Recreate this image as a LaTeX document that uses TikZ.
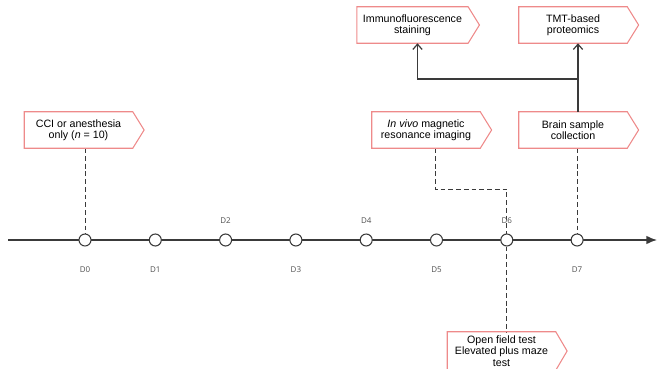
\documentclass[tikz,border=0pt]{standalone}
\usepackage{fontspec}
\setmainfont{Liberation Sans}
\newfontfamily\dayfont{Open Sans}
\usetikzlibrary{arrows.meta,positioning,calc,backgrounds}
\definecolor{tagred}{HTML}{EE8A8A}
\definecolor{linegray}{HTML}{3A3A3A}
\definecolor{daygray}{HTML}{505050}

\tikzset{
  tag/.style={rectangle, minimum width=81pt, minimum height=27pt, inner sep=1pt,
    align=center, font=\fontsize{8}{8.6}\selectfont},
  daydot/.style={circle, draw=linegray, fill=white, line width=0.8pt,
    minimum size=9pt, inner sep=0pt},
  daylabel/.style={font=\dayfont\fontsize{6}{6.5}\selectfont, text=daygray},
  dashline/.style={draw=linegray, dash pattern=on 3.6pt off 2.2pt, line width=0.75pt},
  flowline/.style={draw=linegray, line width=0.9pt, -{Straight Barb[length=4pt,width=7pt]}}
}

\begin{document}
\begin{tikzpicture}[x=0.75pt,y=-0.75pt]
  \clip (0,0) rectangle (657,368);

  % Days on the time line
  \foreach \i/\dy in {0/30,1/30,2/-19,3/30,4/-19,5/30,6/-19,7/30}{
    \node[daydot] (d\i) at (85+70.3*\i,240) {};
    \node[daylabel] (l\i) at ($(d\i)+(0,\dy)$) {D\i};
  }
  \coordinate (tstart) at (8,240);
  \coordinate (tend) at (657,240);

  % Event tags
  \node[tag] (cci) at (78.5,130) {CCI or anesthesia\\only (\textit{n} = 10)};
  \node[tag] (mri) at (426,130) {\textit{In vivo} magnetic\\resonance imaging};
  \node[tag] (brain) at (573,130) {Brain sample\\collection};
  \node[tag, minimum width=83pt] (immuno) at (412.5,25) {Immunofluorescence\\staining};
  \node[tag] (tmt) at (573,25) {TMT-based\\proteomics};
  \node[tag, minimum height=28.5pt] (oft) at (501.5,351) {Open field test\\Elevated plus maze\\test};

  \foreach \n in {cci,mri,brain,immuno,tmt,oft}
    \draw[tagred, line width=0.8pt, line join=miter] (\n.north west) -- (\n.north east)
      -- ([xshift=8.5pt]\n.east) -- (\n.south east) -- (\n.south west) -- cycle;

  % Connectors
  \coordinate (mribend) at (435,189);
  \coordinate (split) at (578,79);
  \begin{scope}[on background layer]
    \draw[line width=1.1pt, linegray, -{Latex[length=8pt,width=6.5pt]}] (tstart) -- (tend);
    \draw[dashline] (cci.south -| d0) -- (d0);
    \draw[dashline] (brain.south -| d7) -- (d7);
    \draw[dashline] (mri.south -| mribend) -- (mribend) -| (oft.north -| d6);
  \end{scope}
  \draw[flowline] (brain.north -| split) -- (tmt.south -| split);
  \draw[flowline] (split) -| ($(immuno.south)+(5,0)$);
\end{tikzpicture}
\end{document}
